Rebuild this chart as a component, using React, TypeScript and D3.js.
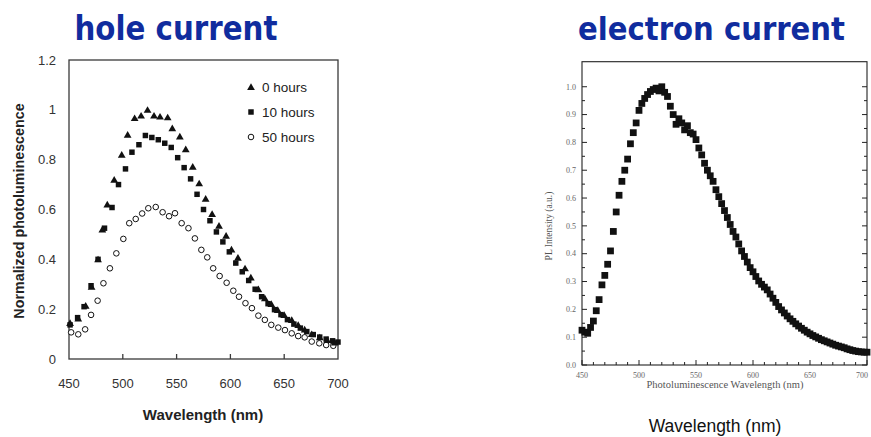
import React from "react";
import * as d3 from "d3";

// ---- Hole current: normalized PL vs wavelength, three aging times ----
const hours0Wavelength = [451, 458.6, 465.5, 471, 477, 481, 485.6, 492, 499, 504.5, 511, 517, 523, 529, 534.6, 541.7, 546, 553, 558.5, 565, 571, 577, 583, 589.4, 596, 601, 607, 613.6, 619, 626, 632, 638, 644, 650, 657, 663, 669, 675.6, 683, 690, 697];
const hours0Value = [0.145, 0.163, 0.214, 0.29, 0.4, 0.52, 0.62, 0.72, 0.82, 0.9, 0.967, 0.977, 1.0, 0.977, 0.973, 0.97, 0.926, 0.893, 0.842, 0.772, 0.705, 0.643, 0.582, 0.535, 0.495, 0.44, 0.407, 0.364, 0.327, 0.28, 0.244, 0.221, 0.197, 0.177, 0.157, 0.137, 0.119, 0.1, 0.087, 0.076, 0.066];

const hours10Wavelength = [451, 458, 464, 470.5, 477, 483, 490, 496, 502.5, 508.5, 515, 521, 527, 533, 539, 545, 551, 557, 563, 569, 575, 581, 587, 593, 599, 605, 611, 617, 623, 629, 635, 641, 647, 653, 659, 665, 671, 677, 683, 689, 695, 700];
const hours10Value = [0.137, 0.166, 0.21, 0.294, 0.4, 0.525, 0.608, 0.7, 0.763, 0.83, 0.86, 0.897, 0.889, 0.88, 0.866, 0.849, 0.808, 0.768, 0.723, 0.661, 0.6, 0.555, 0.51, 0.47, 0.43, 0.385, 0.35, 0.315, 0.28, 0.25, 0.222, 0.198, 0.178, 0.158, 0.14, 0.124, 0.11, 0.098, 0.088, 0.08, 0.073, 0.068];

const hours50Wavelength = [452, 458.6, 465, 470.5, 476.6, 482, 488, 494, 500.5, 506, 512, 518, 523.7, 530.6, 537, 543, 548.5, 554.7, 561, 567, 573, 578.5, 584, 590, 596.5, 602.7, 608, 614, 620, 626, 632, 638, 644.5, 650.7, 657, 663, 669, 675.6, 682.6, 689, 695.6];
const hours50Value = [0.107, 0.099, 0.119, 0.177, 0.234, 0.304, 0.364, 0.424, 0.482, 0.545, 0.562, 0.584, 0.605, 0.61, 0.589, 0.573, 0.585, 0.545, 0.525, 0.484, 0.438, 0.408, 0.364, 0.333, 0.306, 0.274, 0.25, 0.224, 0.204, 0.174, 0.157, 0.137, 0.126, 0.116, 0.103, 0.092, 0.087, 0.07, 0.063, 0.056, 0.053];

const holeLegend = ["0 hours", "10 hours", "50 hours"];
const holeYTicks = [0, 0.2, 0.4, 0.6, 0.8, 1, 1.2];
const holeXTicks = [450, 500, 550, 600, 650, 700];

// ---- Electron current: PL intensity vs wavelength ----
const electronWavelength = [450, 452.5, 455, 457.5, 460, 462.5, 465, 467.5, 470, 472.5, 475, 477.5, 480, 482.5, 485, 487.5, 490, 492.5, 495, 497.5, 500, 502.5, 505, 507.5, 510, 512.5, 515, 517.5, 520, 522.5, 525, 527.5, 530, 532.5, 535, 537.5, 540, 542.5, 545, 547.5, 550, 552.5, 555, 557.5, 560, 562.5, 565, 567.5, 570, 572.5, 575, 577.5, 580, 582.5, 585, 587.5, 590, 592.5, 595, 597.5, 600, 602.5, 605, 607.5, 610, 612.5, 615, 617.5, 620, 622.5, 625, 627.5, 630, 632.5, 635, 637.5, 640, 642.5, 645, 647.5, 650, 652.5, 655, 657.5, 660, 662.5, 665, 667.5, 670, 672.5, 675, 677.5, 680, 682.5, 685, 687.5, 690, 692.5, 695, 697.5, 700];
const electronValue = [0.125, 0.118, 0.114, 0.135, 0.158, 0.195, 0.235, 0.288, 0.322, 0.362, 0.41, 0.48, 0.55, 0.61, 0.66, 0.7, 0.74, 0.795, 0.835, 0.87, 0.915, 0.94, 0.958, 0.972, 0.983, 0.99, 0.995, 0.985, 1.0, 0.98, 0.965, 0.93, 0.9, 0.865, 0.885, 0.87, 0.845, 0.86, 0.835, 0.83, 0.81, 0.78, 0.755, 0.725, 0.7, 0.68, 0.66, 0.63, 0.605, 0.58, 0.555, 0.53, 0.505, 0.48, 0.46, 0.435, 0.41, 0.39, 0.37, 0.35, 0.335, 0.318, 0.302, 0.29, 0.28, 0.27, 0.255, 0.24, 0.225, 0.21, 0.198, 0.187, 0.176, 0.166, 0.157, 0.148, 0.14, 0.132, 0.125, 0.118, 0.112, 0.106, 0.101, 0.096, 0.091, 0.087, 0.083, 0.079, 0.075, 0.071, 0.068, 0.065, 0.062, 0.058, 0.055, 0.052, 0.05, 0.048, 0.047, 0.046, 0.046];

const electronYTicks = [0, 0.1, 0.2, 0.3, 0.4, 0.5, 0.6, 0.7, 0.8, 0.9, 1.0];
const electronXTicks = [450, 500, 550, 600, 650, 700];

const W = 871;
const H = 437;
const TITLE_BLUE = "#102c9e";
const SANS = "'Liberation Sans', Arial, sans-serif";
const SERIF = "'Liberation Serif', 'Times New Roman', serif";
const TITLE_FONT = "'Comic Sans MS', 'DejaVu Sans', sans-serif";

function HolePanel() {
  const x = d3.scaleLinear().domain([450, 700]).range([69, 338]);
  const y = d3.scaleLinear().domain([0, 1.2]).range([359, 60]);
  const tri = d3.symbol().type(d3.symbolTriangle).size(26)() as string;
  const sq = d3.symbol().type(d3.symbolSquare).size(30)() as string;
  const [x0, x1] = x.range();
  const [yb, yt] = y.range();

  return (
    <g>
      <text x={176} y={39.5} fontFamily={TITLE_FONT} fontWeight="bold" fontSize={33} fill={TITLE_BLUE}
        textLength={203} lengthAdjust="spacingAndGlyphs" textAnchor="middle">hole current</text>

      <rect x={x0} y={yt} width={x1 - x0} height={yb - yt} fill="none" stroke="#3a3a3a" strokeWidth={1.3} />
      {holeXTicks.slice(1, -1).map((t) => (
        <line key={t} x1={x(t)} x2={x(t)} y1={yb} y2={yb - 5} stroke="#3a3a3a" strokeWidth={1.3} />
      ))}
      {holeXTicks.map((t) => (
        <text key={t} x={x(t)} y={388} fontFamily={SANS} fontSize={13} fill="#333" textAnchor="middle">{t}</text>
      ))}
      {holeYTicks.map((t) => (
        <text key={t} x={56} y={y(t) + 4.5} fontFamily={SANS} fontSize={13} fill="#333" textAnchor="end">{d3.format("~g")(t)}</text>
      ))}
      <text x={203} y={420} fontFamily={SANS} fontWeight="bold" fontSize={15} fill="#222" textAnchor="middle">Wavelength (nm)</text>
      <text transform={`translate(24,211) rotate(-90)`} fontFamily={SANS} fontWeight="bold" fontSize={14.3} fill="#222" textAnchor="middle">Normalized photoluminescence</text>

      {hours50Wavelength.map((w, i) => (
        <circle key={"c" + i} cx={x(w)} cy={y(hours50Value[i])} r={2.8} fill="#fff" stroke="#111" strokeWidth={1} />
      ))}
      {hours10Wavelength.map((w, i) => (
        <path key={"s" + i} d={sq} transform={`translate(${x(w)},${y(hours10Value[i])})`} fill="#111" />
      ))}
      {hours0Wavelength.map((w, i) => (
        <path key={"t" + i} d={tri} transform={`translate(${x(w)},${y(hours0Value[i]) + 0.8})`} fill="#111" />
      ))}

      {holeLegend.map((label, i) => {
        const ly = 87 + i * 25;
        return (
          <g key={label}>
            {i === 0 && <path d={tri} transform={`translate(251,${ly + 0.8})`} fill="#111" />}
            {i === 1 && <path d={sq} transform={`translate(251,${ly})`} fill="#111" />}
            {i === 2 && <circle cx={251} cy={ly} r={2.8} fill="#fff" stroke="#111" strokeWidth={1} />}
            <text x={262} y={ly + 5} fontFamily={SANS} fontSize={13.5} fill="#222">{label}</text>
          </g>
        );
      })}
    </g>
  );
}

function ElectronPanel() {
  const x = d3.scaleLinear().domain([450, 700]).range([582, 867]);
  const y = d3.scaleLinear().domain([0, 1.09]).range([365, 61.7]);
  const sq = d3.symbol().type(d3.symbolSquare).size(46)() as string;
  const [x0, x1] = x.range();
  const [yb, yt] = y.range();
  const minorY = d3.range(0, 21).map((i) => i * 0.05);
  const minorX = d3.range(450, 701, 10);

  return (
    <g>
      <text x={711.5} y={39.5} fontFamily={TITLE_FONT} fontWeight="bold" fontSize={32} fill={TITLE_BLUE}
        textLength={267} lengthAdjust="spacingAndGlyphs" textAnchor="middle">electron current</text>

      <rect x={x0} y={yt} width={x1 - x0} height={yb - yt} fill="none" stroke="#222" strokeWidth={1.1} />
      {minorY.map((t, i) => {
        const len = i % 2 === 0 ? 5 : 3;
        return (
          <g key={"yt" + i}>
            <line x1={x0} x2={x0 + len} y1={y(t)} y2={y(t)} stroke="#222" strokeWidth={1} />
            <line x1={x1} x2={x1 - len} y1={y(t)} y2={y(t)} stroke="#222" strokeWidth={1} />
          </g>
        );
      })}
      {minorX.map((t, i) => {
        const len = i % 5 === 0 ? 5 : 3;
        return <line key={"xt" + i} x1={x(t)} x2={x(t)} y1={yb} y2={yb - len} stroke="#222" strokeWidth={1} />;
      })}
      {electronYTicks.map((t) => (
        <text key={t} x={576} y={y(t) + 2.8} fontFamily={SERIF} fontSize={8} fill="#666" textAnchor="end">{t.toFixed(1)}</text>
      ))}
      {electronXTicks.map((t) => (
        <text key={t} x={Math.min(x(t), 862)} y={378} fontFamily={SERIF} fontSize={8} fill="#666" textAnchor="middle">{t}</text>
      ))}
      <text x={725} y={388} fontFamily={SERIF} fontSize={10.5} fill="#555" textAnchor="middle">Photoluminescence Wavelength (nm)</text>
      <text transform={`translate(552,226) rotate(-90)`} fontFamily={SERIF} fontSize={9.5} fill="#555" textAnchor="middle">PL Intensity (a.u.)</text>

      {electronWavelength.map((w, i) => (
        <path key={"e" + i} d={sq} transform={`translate(${x(w)},${y(electronValue[i])})`} fill="#111" />
      ))}

      <text x={715} y={432} fontFamily={SANS} fontSize={17.5} fill="#111" textAnchor="middle">Wavelength (nm)</text>
    </g>
  );
}

export default function App() {
  return (
    <svg width={W} height={H} viewBox={`0 0 ${W} ${H}`}
      style={{ position: "absolute", left: 0, top: 0, background: "#fff", display: "block" }}>
      <rect x={0} y={0} width={W} height={H} fill="#fff" />
      <HolePanel />
      <ElectronPanel />
    </svg>
  );
}
